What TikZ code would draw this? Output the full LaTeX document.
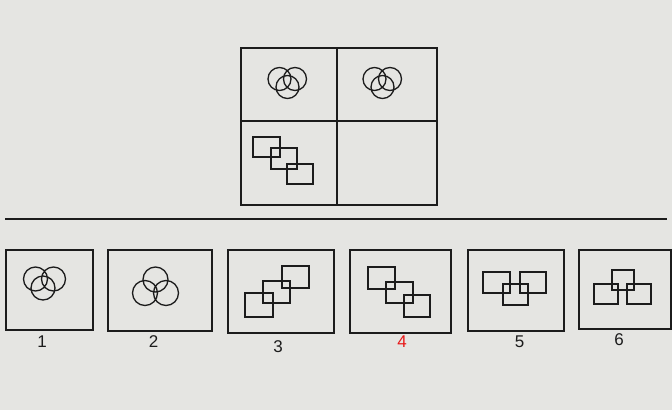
\documentclass[tikz,border=0pt]{standalone}
\usepackage{fontspec}
\setmainfont{Liberation Sans}
\definecolor{paper}{RGB}{229,229,226}
\definecolor{ink}{RGB}{28,28,28}
\definecolor{ansred}{RGB}{232,24,24}
\begin{document}
\begin{tikzpicture}[x=1pt,y=-1pt,
  frame/.style={draw=ink,line width=1.8pt,rectangle,inner sep=0pt,anchor=north west},
  fig/.style={draw=ink,line width=1.3pt},
  lab/.style={font=\fontsize{17}{17}\selectfont,text=ink,inner sep=0pt}]
\fill[paper] (0,0) rectangle (672,410);
\useasboundingbox (0,0) rectangle (672,410);

% question grid
\node[frame,minimum width=196pt,minimum height=157pt] (grid) at (240,47) {};
\coordinate (gtop) at (337,47);
\coordinate (gbot) at (337,204);
\coordinate (gleft) at (240,121);
\coordinate (gright) at (436,121);
\draw[draw=ink,line width=1.8pt] (gtop) -- (gbot);
\draw[draw=ink,line width=1.8pt] (gleft) -- (gright);

% circles in top cells
\draw[fig] (279.5,79) circle (11.5) (295,79) circle (11.5) (287.5,87) circle (11.5);
\draw[fig] (374.5,79) circle (11.5) (390,79) circle (11.5) (382.5,87) circle (11.5);

% squares in bottom-left cell
\draw[fig] (253,137) rectangle (280,157);
\draw[fig] (271,148) rectangle (297,169);
\draw[fig] (287,164) rectangle (313,184);

% separating rule
\coordinate (ruleL) at (5,219);
\coordinate (ruleR) at (667,219);
\draw[draw=ink,line width=1.8pt] (ruleL) -- (ruleR);

% option frames
\node[frame,minimum width=87pt,minimum height=80pt]  (o1) at (5,249) {};
\node[frame,minimum width=104pt,minimum height=81pt] (o2) at (107,249) {};
\node[frame,minimum width=106pt,minimum height=83pt] (o3) at (227,249) {};
\node[frame,minimum width=101pt,minimum height=83pt] (o4) at (349,249) {};
\node[frame,minimum width=96pt,minimum height=81pt]  (o5) at (467,249) {};
\node[frame,minimum width=92pt,minimum height=79pt]  (o6) at (578,249) {};

% option 1
\draw[fig] (35.5,279) circle (12) (53.5,279) circle (12) (43,288) circle (12);
% option 2
\draw[fig] (155.5,279.5) circle (12.5) (145,293) circle (12.5) (166,293) circle (12.5);
% option 3
\draw[fig] (245,293) rectangle (273,317);
\draw[fig] (263,281) rectangle (290,303);
\draw[fig] (282,266) rectangle (309,288);
% option 4
\draw[fig] (368,267) rectangle (395,289);
\draw[fig] (386,282) rectangle (413,303);
\draw[fig] (404,295) rectangle (430,317);
% option 5
\draw[fig] (483,272) rectangle (510,293);
\draw[fig] (520,272) rectangle (546,293);
\draw[fig] (503,284) rectangle (528,305);
% option 6
\draw[fig] (612,270) rectangle (634,290);
\draw[fig] (594,284) rectangle (618,304);
\draw[fig] (627,284) rectangle (651,304);

% labels
\node[lab] (l1) at (42,341.5) {1};
\node[lab] (l2) at (153.5,341.5) {2};
\node[lab] (l3) at (278,347) {3};
\node[lab,text=ansred] (l4) at (402,342) {4};
\node[lab] (l5) at (519.5,342) {5};
\node[lab] (l6) at (619,340) {6};
\end{tikzpicture}
\end{document}
